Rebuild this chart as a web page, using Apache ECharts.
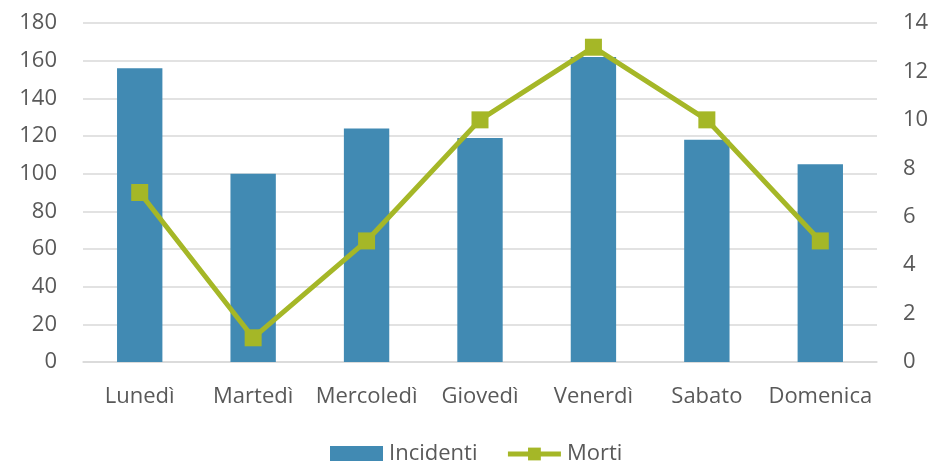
<!DOCTYPE html>
<html><head><meta charset="utf-8">
<script src="https://cdn.jsdelivr.net/npm/echarts@6/dist/echarts.min.js"></script>
<style>html,body{margin:0;padding:0;background:#fff}#c{width:933px;height:461px}</style>
</head><body><div id="c"></div>
<script>
const categories = ['Lunedì','Martedì','Mercoledì','Giovedì','Venerdì','Sabato','Domenica'];
const incidenti = [156, 100, 124, 119, 162, 118, 105];
const morti = [7, 1, 5, 10, 13, 10, 5];
const leftTicks = [0,20,40,60,80,100,120,140,160,180];
const rightTicks = [0,2,4,6,8,10,12,14];

const font = '"Open Sans", "Liberation Sans", sans-serif';
const txt = '#595959';
const chart = echarts.init(document.getElementById('c'));
chart.setOption({
  animation: false,
  textStyle: {fontFamily: font},
  grid: {left: 83, right: 56, top: 23, bottom: 99, containLabel: false},
  legend: {
    top: 443, left: 330, padding: 0, itemGap: 28, itemWidth: 53, itemHeight: 16,
    textStyle: {fontSize: 22, color: txt, fontFamily: font, padding: [0,0,0,1]},
    data: [
      {name: 'Incidenti', icon: 'rect'},
      {name: 'Morti', lineStyle: {width: 5, color: '#A5B727'}}
    ]
  },
  xAxis: {
    type: 'category', data: categories,
    axisLine: {lineStyle: {color: '#d9d9d9', width: 1.5}},
    axisTick: {show: false},
    axisLabel: {fontSize: 22, color: txt, margin: 24, fontFamily: font, interval: 0}
  },
  yAxis: [
    {type: 'value', min: leftTicks[0], max: leftTicks[leftTicks.length-1], interval: 20,
     axisLine: {show: false}, axisTick: {show: false},
     splitLine: {lineStyle: {color: '#d9d9d9', width: 1.5}},
     axisLabel: {fontSize: 22, color: txt, margin: 26, fontFamily: font}},
    {type: 'value', min: rightTicks[0], max: rightTicks[rightTicks.length-1], interval: 2,
     axisLine: {show: false}, axisTick: {show: false}, splitLine: {show: false},
     axisLabel: {fontSize: 22, color: txt, margin: 26, fontFamily: font}}
  ],
  series: [
    {name: 'Incidenti', type: 'bar', data: incidenti, barWidth: '40%',
     itemStyle: {color: '#418AB3'}},
    {name: 'Morti', type: 'line', yAxisIndex: 1, data: morti,
     symbol: 'rect', symbolSize: 17,
     lineStyle: {color: '#A5B727', width: 5},
     itemStyle: {color: '#A5B727'}}
  ]
});
</script></body></html>
